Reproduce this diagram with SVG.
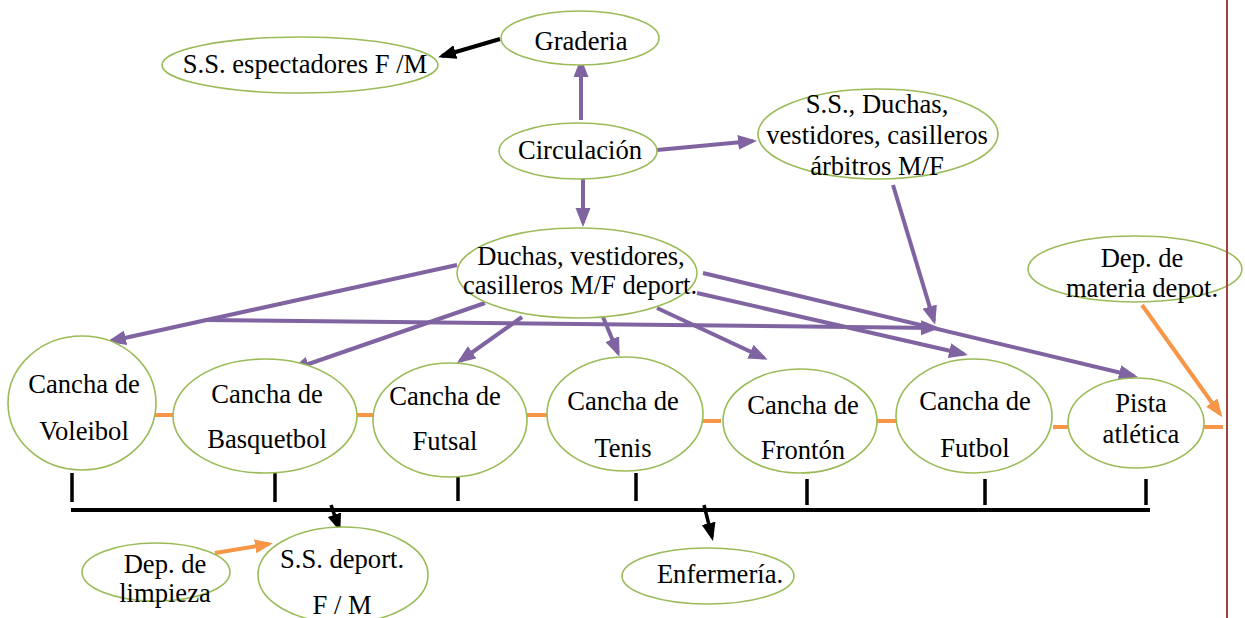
<svg xmlns="http://www.w3.org/2000/svg" width="1245" height="618" viewBox="0 0 1245 618">
<style>
.n{fill:#ffffff;stroke:#9bbb59;stroke-width:1.6}
.t{font-family:"Liberation Serif","Times New Roman",serif;font-size:26.6px;fill:#000;text-anchor:middle}
.p{stroke:#8064a2;stroke-width:4;fill:none}
.k{stroke:#000;stroke-width:4;fill:none}
.o{stroke:#f79646;stroke-width:4;fill:none}
</style>
<defs>
<marker id="ap" markerUnits="userSpaceOnUse" markerWidth="20" markerHeight="16" refX="15" refY="7.5" orient="auto"><path d="M0,0 L19,7.5 L0,15 z" fill="#8064a2"/></marker>
<marker id="ak" markerUnits="userSpaceOnUse" markerWidth="20" markerHeight="16" refX="14" refY="7" orient="auto"><path d="M0,0 L18,7 L0,14 z" fill="#000"/></marker>
<marker id="ao" markerUnits="userSpaceOnUse" markerWidth="20" markerHeight="16" refX="14" refY="7" orient="auto"><path d="M0,0 L18,7 L0,14 z" fill="#f79646"/></marker>
</defs>
<rect width="1245" height="618" fill="#ffffff"/>
<g id="connectors">
<line class="p" x1="581" y1="120" x2="581" y2="62" marker-end="url(#ap)"/>
<line class="p" x1="583" y1="175" x2="583" y2="223" marker-end="url(#ap)"/>
<line class="p" x1="657" y1="150" x2="753" y2="141" marker-end="url(#ap)"/>
<line class="p" x1="457" y1="265" x2="111" y2="341" marker-end="url(#ap)"/>
<line class="p" x1="485" y1="303" x2="294" y2="369" marker-end="url(#ap)"/>
<line class="p" x1="522" y1="317" x2="460" y2="361" marker-end="url(#ap)"/>
<line class="p" x1="603" y1="317" x2="618" y2="353" marker-end="url(#ap)"/>
<line class="p" x1="657" y1="308" x2="764" y2="358" marker-end="url(#ap)"/>
<line class="p" x1="697" y1="293" x2="964" y2="354" marker-end="url(#ap)"/>
<line class="p" x1="703" y1="273" x2="1134" y2="376" marker-end="url(#ap)"/>
<line class="p" x1="205" y1="320" x2="936" y2="328" marker-end="url(#ap)"/>
<line class="p" x1="893" y1="185" x2="934" y2="321" marker-end="url(#ap)"/>
<line class="k" x1="500" y1="39" x2="442" y2="56" marker-end="url(#ak)"/>
<line class="k" x1="71" y1="510" x2="1150" y2="510"/>
<g class="k" style="stroke-width:3.5">
<line x1="72" y1="473" x2="72" y2="502"/>
<line x1="275" y1="473" x2="275" y2="502"/>
<line x1="458" y1="473" x2="458" y2="501"/>
<line x1="636" y1="473" x2="636" y2="501"/>
<line x1="807" y1="479" x2="807" y2="505"/>
<line x1="985" y1="479" x2="985" y2="505"/>
<line x1="1146" y1="479" x2="1146" y2="505"/>
</g>
<line class="k" style="stroke-width:3.5" x1="331" y1="505" x2="339" y2="528" marker-end="url(#ak)"/>
<line class="k" style="stroke-width:3.5" x1="704" y1="505" x2="712" y2="537" marker-end="url(#ak)"/>
<line class="o" x1="152" y1="415" x2="177" y2="415"/>
<line class="o" x1="352" y1="415" x2="377" y2="415"/>
<line class="o" x1="526" y1="415" x2="550" y2="415"/>
<line class="o" x1="696" y1="421" x2="721" y2="421"/>
<line class="o" x1="873" y1="421" x2="897" y2="421"/>
<line class="o" x1="1053" y1="427" x2="1077" y2="427"/>
<line class="o" x1="1199" y1="427" x2="1223" y2="427"/>
<line class="o" x1="1142" y1="305" x2="1220" y2="414" marker-end="url(#ao)"/>
<line class="o" x1="215" y1="553" x2="269" y2="544" marker-end="url(#ao)"/>
</g>
<g id="graderia"><ellipse class="n" cx="580" cy="38" rx="79" ry="27"/><text class="t" x="581" y="50">Graderia</text></g>
<g id="ss-espectadores"><ellipse class="n" cx="300" cy="65" rx="138" ry="28"/><text class="t" x="305" y="73">S.S. espectadores F /M</text></g>
<g id="circulacion"><ellipse class="n" cx="578" cy="151" rx="79" ry="28"/><text class="t" x="580" y="159">Circulación</text></g>
<g id="ss-arbitros"><ellipse class="n" cx="878" cy="134" rx="120" ry="45"/><text class="t" x="877" y="113">S.S., Duchas,</text><text class="t" x="877" y="144">vestidores, casilleros</text><text class="t" x="877" y="175">árbitros M/F</text></g>
<g id="duchas"><ellipse class="n" cx="577" cy="273" rx="120" ry="45"/><text class="t" x="581" y="265">Duchas, vestidores,</text><text class="t" x="580" y="294">casilleros M/F deport.</text></g>
<g id="voleibol"><ellipse class="n" cx="82" cy="403" rx="74" ry="67"/><text class="t" x="84" y="393">Cancha de</text><text class="t" x="84" y="440">Voleibol</text></g>
<g id="basquetbol"><ellipse class="n" cx="265" cy="416" rx="92" ry="57"/><text class="t" x="267" y="403">Cancha de</text><text class="t" x="267" y="448">Basquetbol</text></g>
<g id="futsal"><ellipse class="n" cx="450" cy="420" rx="77" ry="57"/><text class="t" x="445" y="405">Cancha de</text><text class="t" x="445" y="450">Futsal</text></g>
<g id="tenis"><ellipse class="n" cx="625" cy="414" rx="78" ry="57"/><text class="t" x="623" y="410">Cancha de</text><text class="t" x="623" y="457">Tenis</text></g>
<g id="fronton"><ellipse class="n" cx="800" cy="421" rx="77" ry="52"/><text class="t" x="803" y="414">Cancha de</text><text class="t" x="803" y="459">Frontón</text></g>
<g id="futbol"><ellipse class="n" cx="974" cy="416" rx="78" ry="57"/><text class="t" x="975" y="410">Cancha de</text><text class="t" x="975" y="457">Futbol</text></g>
<g id="pista"><ellipse class="n" cx="1136" cy="423" rx="68" ry="45"/><text class="t" x="1141" y="412">Pista</text><text class="t" x="1141" y="443">atlética</text></g>
<g id="dep-materia"><ellipse class="n" cx="1135" cy="269" rx="107" ry="33"/><text class="t" x="1142" y="267">Dep. de</text><text class="t" x="1142" y="297">materia depot.</text></g>
<g id="ss-deport"><ellipse class="n" cx="343" cy="575" rx="85" ry="48"/><text class="t" x="342" y="568">S.S. deport.</text><text class="t" x="342" y="614">F / M</text></g>
<g id="dep-limpieza"><ellipse class="n" cx="156" cy="572" rx="74" ry="29"/><text class="t" x="165" y="573">Dep. de</text><text class="t" x="165" y="602">limpieza</text></g>
<g id="enfermeria"><ellipse class="n" cx="708" cy="576" rx="86" ry="28"/><text class="t" x="720" y="583">Enfermería.</text></g>
<line x1="1227" y1="0" x2="1227" y2="618" stroke="#a0403f" stroke-width="2"/>
</svg>
